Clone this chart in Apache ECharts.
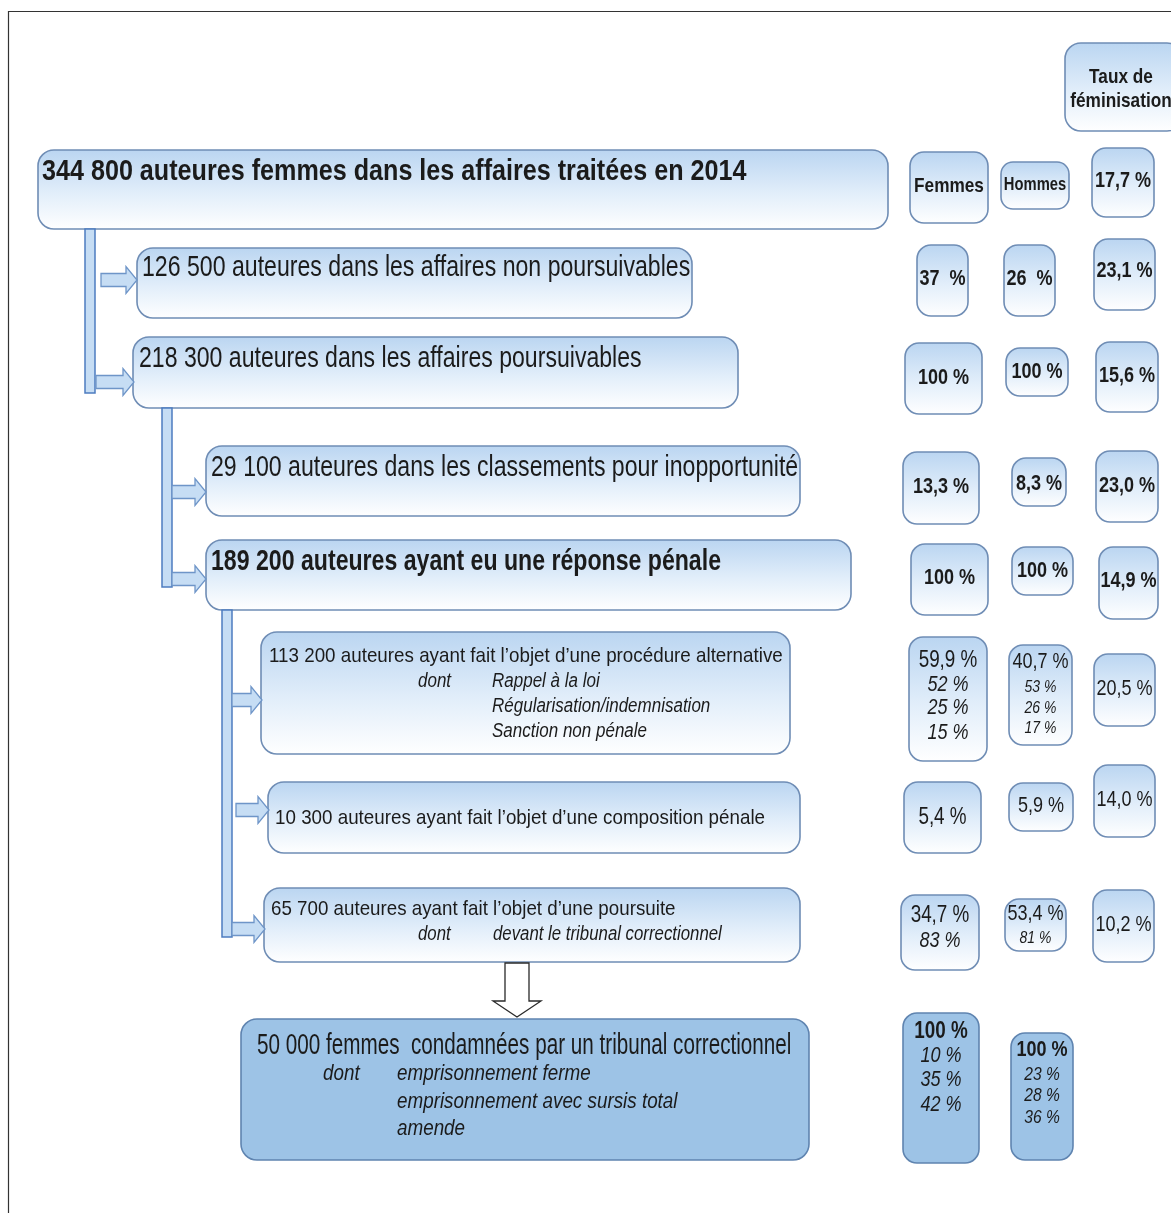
<!DOCTYPE html>
<html><head><meta charset="utf-8">
<script src="https://cdn.jsdelivr.net/npm/echarts@6/dist/echarts.min.js"></script>
<style>html,body{margin:0;padding:0;background:#fff}#c{width:1171px;height:1213px}</style>
</head><body><div id="c"></div>
<script>
// ================= DATA =================
const flowTitles = [
  '344 800 auteures femmes dans les affaires traitées en 2014',
  '126 500 auteures dans les affaires non poursuivables',
  '218 300 auteures dans les affaires poursuivables',
  '29 100 auteures dans les classements pour inopportunité',
  '189 200 auteures ayant eu une réponse pénale',
  '113 200 auteures ayant fait l’objet d’une procédure alternative',
  '10 300 auteures ayant fait l’objet d’une composition pénale',
  '65 700 auteures ayant fait l’objet d’une poursuite',
  '50 000 femmes  condamnées par un tribunal correctionnel'
];
const detailLead = 'dont';
const flowDetails = [[], [], [], [], [],
  ['Rappel à la loi', 'Régularisation/indemnisation', 'Sanction non pénale'],
  [],
  ['devant le tribunal correctionnel'],
  ['emprisonnement ferme', 'emprisonnement avec sursis total', 'amende']];
const headerFemmes = 'Femmes';
const headerHommes = 'Hommes';
const headerTaux = ['Taux de', 'féminisation'];
// rows 1..8 of the flow
const femmesPct = ['37  %', '100 %', '13,3 %', '100 %', '59,9 %', '5,4 %', '34,7 %', '100 %'];
const femmesDetail = [[], [], [], [], ['52 %', '25 %', '15 %'], [], ['83 %'], ['10 %', '35 %', '42 %']];
const hommesPct = ['26  %', '100 %', '8,3 %', '100 %', '40,7 %', '5,9 %', '53,4 %', '100 %'];
const hommesDetail = [[], [], [], [], ['53 %', '26 %', '17 %'], [], ['81 %'], ['23 %', '28 %', '36 %']];
// rows 0..7 of the flow
const tauxPct = ['17,7 %', '23,1 %', '15,6 %', '23,0 %', '14,9 %', '20,5 %', '14,0 %', '10,2 %'];

// ================= LAYOUT / STYLE =================
const FONT = '"Liberation Sans",Arial,sans-serif';
const NARROW = 0.82;
const TXT = '#1b1b1b';
const BORDER = '#6f8db5';
const flowLayout = [
  {r: [38, 150, 850, 79], s: 29, b: true, tx: 42, ty: 172, sx: 0.867},
  {r: [137, 248, 555, 70], s: 29, tx: 142, ty: 268, sx: 0.797},
  {r: [133, 337, 605, 71], s: 29, tx: 139, ty: 359, sx: 0.796},
  {r: [206, 446, 594, 70], s: 29, tx: 211, ty: 468, sx: 0.797},
  {r: [206, 540, 645, 70], s: 29, b: true, tx: 211, ty: 562, sx: 0.797},
  {r: [261, 632, 529, 122], s: 21, tx: 269, ty: 656, sx: 0.895, dx: 418, ix: 492, dy: [681, 706, 731], ds: 20, dsx: 0.85},
  {r: [268, 782, 532, 71], s: 21, tx: 275, ty: 818, sx: 0.895},
  {r: [264, 888, 536, 74], s: 21, tx: 271, ty: 909, sx: 0.893, dx: 418, ix: 493, dy: [934], ds: 20, dsx: 0.84},
  {r: [241, 1019, 568, 141], s: 29, tx: 257, ty: 1046, sx: 0.713, dx: 323, ix: 397, dy: [1074, 1102, 1129], ds: 22, dsx: 0.856, dark: true}
];
const femmesHeadLayout = {r: [910, 152, 78, 71], cx: 949, y: 186, s: 21};
const hommesHeadLayout = {r: [1001, 162, 68, 47], cx: 1035, y: 185, s: 18};
const tauxHeadLayout = {r: [1065, 43, 118, 88], cx: 1121, ys: [77, 101], s: 21};
const femmesLayout = [
  {r: [917, 245, 51, 71], ys: [279], s: 22, b: true},
  {r: [905, 343, 77, 71], ys: [378], s: 22, b: true},
  {r: [903, 452, 76, 72], ys: [487], s: 22, b: true},
  {r: [911, 544, 77, 71], ys: [578], s: 22, b: true},
  {r: [909, 637, 78, 124], ys: [661, 685, 708, 733], s: 23, ds: 22},
  {r: [904, 782, 77, 71], ys: [818], s: 23},
  {r: [901, 895, 78, 75], ys: [916, 941], s: 23, ds: 22},
  {r: [903, 1013, 76, 150], ys: [1032, 1056, 1080, 1105], s: 23, b: true, ds: 22, dark: true}
];
const hommesLayout = [
  {r: [1004, 245, 51, 71], ys: [279], s: 22, b: true},
  {r: [1006, 348, 62, 48], ys: [372], s: 22, b: true},
  {r: [1012, 458, 54, 48], ys: [484], s: 22, b: true},
  {r: [1012, 547, 61, 48], ys: [571], s: 22, b: true},
  {r: [1009, 645, 63, 100], ys: [662, 687, 708, 728], s: 22, ds: 17},
  {r: [1009, 783, 64, 48], ys: [806], s: 22},
  {r: [1005, 899, 61, 52], ys: [914, 938], s: 22, ds: 17},
  {r: [1011, 1033, 62, 127], ys: [1050, 1075, 1096, 1118], s: 22, b: true, ds: 19, dark: true}
];
const tauxLayout = [
  {r: [1092, 148, 62, 69], y: 181, b: true},
  {r: [1094, 239, 61, 71], y: 271, b: true},
  {r: [1096, 342, 62, 70], y: 376, b: true},
  {r: [1096, 451, 62, 71], y: 486, b: true},
  {r: [1099, 547, 59, 72], y: 581, b: true},
  {r: [1094, 654, 61, 72], y: 689},
  {r: [1094, 765, 61, 72], y: 800},
  {r: [1093, 890, 61, 72], y: 925}
];
const vBars = [[85, 229, 393], [162, 408, 587], [222, 610, 937]];
const rArrows = [[101, 137, 280], [96, 134, 382], [172, 206, 492], [172, 206, 579], [232, 262, 700], [236, 269, 810], [232, 265, 929]];
const downArrow = {cx: 517, y0: 963, y1: 1017};

// ================= BUILD NODES =================
function font(size, bold, italic) {
  return (italic ? 'italic ' : '') + (bold ? 'bold ' : '') + size + 'px ' + FONT;
}
const nodes = [];
flowLayout.forEach((L, i) => {
  const sx = L.sx || NARROW;
  const texts = [{t: flowTitles[i], x: L.tx, y: L.ty, f: font(L.s, L.b), a: 'left', sx}];
  flowDetails[i].forEach((d, k) => {
    if (k === 0) texts.push({t: detailLead, x: L.dx, y: L.dy[0], f: font(L.ds, false, true), a: 'left', sx: L.dsx});
    texts.push({t: d, x: L.ix, y: L.dy[k], f: font(L.ds, false, true), a: 'left', sx: L.dsx});
  });
  nodes.push({kind: 'box', r: L.r, rad: 16, dark: L.dark, texts});
});
nodes.push({kind: 'box', r: femmesHeadLayout.r, rad: 14, texts: [{t: headerFemmes, x: femmesHeadLayout.cx, y: femmesHeadLayout.y, f: font(femmesHeadLayout.s, true), a: 'center'}]});
nodes.push({kind: 'box', r: hommesHeadLayout.r, rad: 12, texts: [{t: headerHommes, x: hommesHeadLayout.cx, y: hommesHeadLayout.y, f: font(hommesHeadLayout.s, true), a: 'center'}]});
nodes.push({kind: 'box', r: tauxHeadLayout.r, rad: 16, texts: headerTaux.map((t, k) => ({t, x: tauxHeadLayout.cx, y: tauxHeadLayout.ys[k], f: font(tauxHeadLayout.s, true), a: 'center'}))});
function pctBox(L, main, details) {
  const cx = L.r[0] + L.r[2] / 2;
  const texts = [{t: main, x: cx, y: L.ys[0], f: font(L.s, L.b), a: 'center'}];
  details.forEach((d, k) => texts.push({t: d, x: cx, y: L.ys[k + 1], f: font(L.ds, false, true), a: 'center'}));
  nodes.push({kind: 'box', r: L.r, rad: 14, dark: L.dark, texts});
}
femmesLayout.forEach((L, i) => pctBox(L, femmesPct[i], femmesDetail[i]));
hommesLayout.forEach((L, i) => pctBox(L, hommesPct[i], hommesDetail[i]));
tauxLayout.forEach((L, i) => nodes.push({kind: 'box', r: L.r, rad: 14, texts: [{t: tauxPct[i], x: L.r[0] + L.r[2] / 2, y: L.y, f: font(22, L.b), a: 'center'}]}));
vBars.forEach(b => nodes.push({kind: 'vbar', b}));
rArrows.forEach(a => nodes.push({kind: 'rarrow', a}));
nodes.push({kind: 'darrow', d: downArrow});
nodes.push({kind: 'frame'});

const grad = () => new echarts.graphic.LinearGradient(0, 0, 0, 1, [
  {offset: 0, color: '#bad5f1'}, {offset: 0.55, color: '#e2eefa'}, {offset: 1, color: '#ffffff'}]);

function renderItem(params, api) {
  const n = nodes[params.dataIndex];
  const P = (x, y) => api.coord([x, y]);
  if (n.kind === 'box') {
    const p0 = P(n.r[0], n.r[1]), p1 = P(n.r[0] + n.r[2], n.r[1] + n.r[3]);
    const children = [{
      type: 'rect',
      shape: {x: p0[0], y: p0[1], width: p1[0] - p0[0], height: p1[1] - p0[1], r: n.rad},
      style: {fill: n.dark ? '#9dc3e6' : grad(), stroke: n.dark ? '#5f84b0' : BORDER, lineWidth: 1.6}
    }];
    n.texts.forEach(t => {
      const p = P(t.x, t.y);
      children.push({type: 'text', x: p[0], y: p[1], scaleX: t.sx || NARROW,
        style: {text: t.t, x: 0, y: 0, font: t.f, fill: TXT, align: t.a, verticalAlign: 'middle'}});
    });
    return {type: 'group', children};
  }
  if (n.kind === 'vbar') {
    const p0 = P(n.b[0], n.b[1]), p1 = P(n.b[0] + 10, n.b[2]);
    return {type: 'rect', shape: {x: p0[0], y: p0[1], width: p1[0] - p0[0], height: p1[1] - p0[1]},
      style: {fill: '#c6ddf4', stroke: '#4d7cc0', lineWidth: 1.5}};
  }
  if (n.kind === 'rarrow') {
    const [x0, x1, yc] = n.a;
    const hx = x1 - 11;
    const pts = [[x0, yc - 6.5], [hx, yc - 6.5], [hx, yc - 13.5], [x1, yc], [hx, yc + 13.5], [hx, yc + 6.5], [x0, yc + 6.5]].map(q => P(q[0], q[1]));
    return {type: 'polygon', shape: {points: pts}, style: {fill: '#c6ddf4', stroke: '#6e95c8', lineWidth: 1.3}};
  }
  if (n.kind === 'darrow') {
    const d = n.d;
    const hy = d.y1 - 16;
    const pts = [[d.cx - 12, d.y0], [d.cx + 12, d.y0], [d.cx + 12, hy], [d.cx + 24, hy], [d.cx, d.y1], [d.cx - 24, hy], [d.cx - 12, hy]].map(q => P(q[0], q[1]));
    return {type: 'polygon', shape: {points: pts}, style: {fill: '#ffffff', stroke: '#2a2a2a', lineWidth: 1.3}};
  }
  if (n.kind === 'frame') {
    const pts = [[8.5, 1213], [8.5, 11.5], [1171, 11.5]].map(q => P(q[0], q[1]));
    return {type: 'polyline', shape: {points: pts}, style: {fill: null, stroke: '#333', lineWidth: 1.2}};
  }
}

const chart = echarts.init(document.getElementById('c'), null, {renderer: 'canvas'});
chart.setOption({
  animation: false,
  backgroundColor: '#ffffff',
  grid: {left: 0, right: 0, top: 0, bottom: 0},
  xAxis: {type: 'value', min: 0, max: 1171, show: false},
  yAxis: {type: 'value', min: 0, max: 1213, inverse: true, show: false},
  series: [{
    type: 'custom',
    coordinateSystem: 'cartesian2d',
    clip: false,
    renderItem,
    data: nodes.map((n, i) => [i])
  }]
});
</script></body></html>
